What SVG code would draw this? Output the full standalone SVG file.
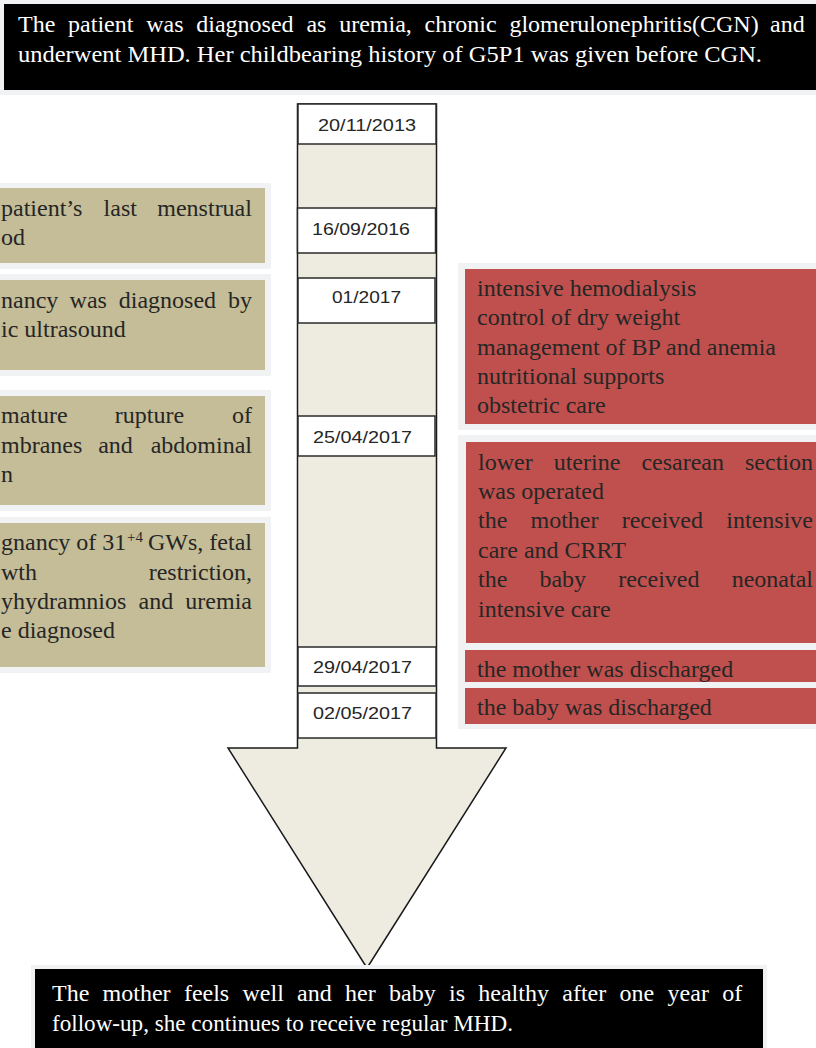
<svg xmlns="http://www.w3.org/2000/svg" width="816" height="1048" viewBox="0 0 816 1048">
<style>
.halo{fill:#f1f2f4}
.blk{fill:#000}
.tan{fill:#c4bd97}
.red{fill:#c0504d}
.wt{font-family:"Liberation Serif","Times New Roman",serif;font-size:24px;fill:#fff}
.dt{font-family:"Liberation Serif","Times New Roman",serif;font-size:24px;fill:#262626}
.sup{font-family:"Liberation Serif","Times New Roman",serif;font-size:15px;fill:#262626}
.date rect{fill:#fff;stroke:#2a2a2a;stroke-width:1.5}
.date text{font-family:"Liberation Sans",Arial,sans-serif;font-size:17px;fill:#262626}
</style>
<rect width="816" height="1048" fill="#fff"/>

<g id="top-summary">
<rect class="halo" x="0" y="0" width="816" height="95"/>
<rect class="blk" x="4" y="4" width="812" height="86"/>
<text class="wt" y="32"><tspan x="18">The</tspan><tspan x="68.1">patient</tspan><tspan x="146.2">was</tspan><tspan x="196.3">diagnosed</tspan><tspan x="306.4">as</tspan><tspan x="339.2">uremia,</tspan><tspan x="424.6">chronic</tspan><tspan x="509.4">glomerulonephritis(CGN)</tspan><tspan x="770.1">and</tspan></text>
<text class="wt" x="18" y="62" textLength="744" lengthAdjust="spacingAndGlyphs">underwent MHD. Her childbearing history of G5P1 was given before CGN.</text>
</g>

<g id="timeline-arrow">
<polygon points="297.5,104 436.5,104 436.5,748 506,748 367,968 228,748 297.5,748" fill="#eeece1" stroke="#1a1a1a" stroke-width="1.5" stroke-linejoin="miter"/>
</g>

<g id="date-20-11-2013" class="date">
<rect x="298" y="104" width="138" height="40"/>
<text x="318" y="131" textLength="98" lengthAdjust="spacingAndGlyphs">20/11/2013</text>
</g>
<g id="date-16-09-2016" class="date">
<rect x="297.5" y="208" width="138" height="45"/>
<text x="312" y="235" textLength="98" lengthAdjust="spacingAndGlyphs">16/09/2016</text>
</g>
<g id="date-01-2017" class="date">
<rect x="298" y="278" width="137" height="45"/>
<text x="332" y="303" textLength="69" lengthAdjust="spacingAndGlyphs">01/2017</text>
</g>
<g id="date-25-04-2017" class="date">
<rect x="298" y="416" width="137" height="40"/>
<text x="313" y="443" textLength="99" lengthAdjust="spacingAndGlyphs">25/04/2017</text>
</g>
<g id="date-29-04-2017" class="date">
<rect x="298" y="647" width="138" height="39"/>
<text x="313" y="673" textLength="99" lengthAdjust="spacingAndGlyphs">29/04/2017</text>
</g>
<g id="date-02-05-2017" class="date">
<rect x="298" y="693" width="138" height="45"/>
<text x="313" y="719" textLength="99" lengthAdjust="spacingAndGlyphs">02/05/2017</text>
</g>

<g id="left-lmp">
<rect class="halo" x="0" y="183" width="271" height="86"/>
<rect class="tan" x="0" y="188" width="265" height="75"/>
<text class="dt" y="216"><tspan x="1">patient’s</tspan><tspan x="103.6">last</tspan><tspan x="157.3">menstrual</tspan></text>
<text class="dt" x="1" y="245">od</text>
</g>

<g id="left-ultrasound">
<rect class="halo" x="0" y="274" width="271" height="102"/>
<rect class="tan" x="0" y="280" width="265" height="90"/>
<text class="dt" y="308"><tspan x="1">nancy</tspan><tspan x="69.6">was</tspan><tspan x="118.8">diagnosed</tspan><tspan x="228">by</tspan></text>
<text class="dt" x="1" y="337">ic ultrasound</text>
</g>

<g id="left-rupture">
<rect class="halo" x="0" y="390" width="271" height="121"/>
<rect class="tan" x="0" y="396" width="265" height="109"/>
<text class="dt" y="423"><tspan x="1">mature</tspan><tspan x="114.8">rupture</tspan><tspan x="232">of</tspan></text>
<text class="dt" y="453"><tspan x="1">mbranes</tspan><tspan x="98.2">and</tspan><tspan x="150.7">abdominal</tspan></text>
<text class="dt" x="1" y="482">n</text>
</g>

<g id="left-diagnosis">
<rect class="halo" x="0" y="517" width="271" height="156"/>
<rect class="tan" x="0" y="523" width="265" height="144"/>
<text class="dt" x="1" y="550">gnancy of 31</text>
<text class="sup" x="127" y="542">+4</text>
<text class="dt" x="252" y="550" text-anchor="end">GWs, fetal</text>
<text class="dt" x="1" y="580">wth</text>
<text class="dt" x="252" y="580" text-anchor="end">restriction,</text>
<text class="dt" y="609"><tspan x="1">yhydramnios</tspan><tspan x="138.5">and</tspan></text>
<text class="dt" x="252" y="609" text-anchor="end">uremia</text>
<text class="dt" x="1" y="638">e diagnosed</text>
</g>

<g id="right-treatment">
<rect class="halo" x="458" y="263" width="358" height="167"/>
<rect class="red" x="465" y="269" width="351" height="155"/>
<text class="dt" x="477" y="296">intensive hemodialysis</text>
<text class="dt" x="477" y="325">control of dry weight</text>
<text class="dt" x="477" y="355">management of BP and anemia</text>
<text class="dt" x="477" y="384">nutritional supports</text>
<text class="dt" x="477" y="413">obstetric care</text>
</g>

<g id="right-halo-lower">
<rect class="halo" x="458" y="435" width="358" height="294"/>
</g>

<g id="right-cesarean">
<rect class="red" x="466" y="442" width="350" height="201"/>
<text class="dt" y="470"><tspan x="478">lower</tspan><tspan x="553.7">uterine</tspan><tspan x="641.4">cesarean</tspan><tspan x="745">section</tspan></text>
<text class="dt" x="478" y="499">was operated</text>
<text class="dt" y="528"><tspan x="478">the</tspan><tspan x="530.5">mother</tspan><tspan x="621.7">received</tspan><tspan x="726.3">intensive</tspan></text>
<text class="dt" x="478" y="558">care and CRRT</text>
<text class="dt" y="587"><tspan x="478">the</tspan><tspan x="539.4">baby</tspan><tspan x="618.2">received</tspan><tspan x="731.7">neonatal</tspan></text>
<text class="dt" x="478" y="617">intensive care</text>
</g>

<g id="right-mother-discharged">
<rect class="red" x="465" y="650" width="351" height="32"/>
<text class="dt" x="477" y="677">the mother was discharged</text>
</g>

<g id="right-baby-discharged">
<rect class="red" x="465" y="688" width="351" height="36"/>
<text class="dt" x="477" y="715">the baby was discharged</text>
</g>

<g id="bottom-outcome">
<rect class="halo" x="31" y="965" width="736" height="83"/>
<rect class="blk" x="35" y="969" width="728" height="79"/>
<text class="wt" y="1001"><tspan x="52">The</tspan><tspan x="102.6">mother</tspan><tspan x="183.9">feels</tspan><tspan x="242.5">well</tspan><tspan x="297.1">and</tspan><tspan x="345.1">her</tspan><tspan x="389">baby</tspan><tspan x="449">is</tspan><tspan x="478.3">healthy</tspan><tspan x="562.3">after</tspan><tspan x="619.6">one</tspan><tspan x="667.6">year</tspan><tspan x="722.2">of</tspan></text>
<text class="wt" x="52" y="1031" textLength="461" lengthAdjust="spacingAndGlyphs">follow-up, she continues to receive regular MHD.</text>
</g>
</svg>
